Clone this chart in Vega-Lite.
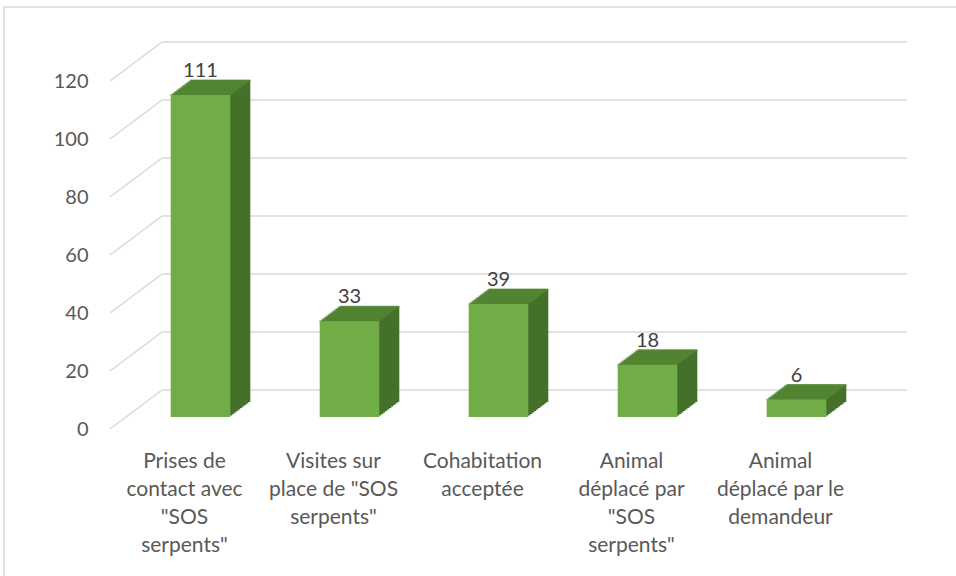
{
  "$schema": "https://vega.github.io/schema/vega-lite/v6.json",
  "width": 745,
  "height": 348,
  "autosize": "none",
  "padding": {"left": 126, "top": 69, "right": 85, "bottom": 159},
  "background": "white",
  "config": {"view": {"stroke": null}, "font": "Lato"},
  "resolve": {"scale": {"x": "independent"}, "axis": {"x": "independent"}},
  "layer": [
    {
      "data": {"values": [{"value": 0}, {"value": 20}, {"value": 40}, {"value": 60}, {"value": 80}, {"value": 100}, {"value": 120}]},
      "layer": [
        {
          "mark": {"type": "rule", "color": "#D9D9D9", "strokeWidth": 1.5, "xOffset": 36, "x2Offset": 36, "yOffset": -27, "y2Offset": -27},
          "encoding": {
            "x": {"datum": 0, "type": "quantitative", "scale": {"domain": [0, 1], "nice": false}, "axis": null},
            "x2": {"datum": 1},
            "y": {"field": "value", "type": "quantitative", "scale": {"domain": [0, 120], "nice": false},
                  "axis": {"title": null, "values": [0, 20, 40, 60, 80, 100, 120], "grid": false, "domain": false, "ticks": false, "tickSize": 0,
                           "labelPadding": 38, "labelOffset": 12, "labelFontSize": 20, "labelColor": "#595959", "labelFont": "Lato"}}
          }
        },
        {
          "mark": {"type": "rule", "color": "#D9D9D9", "strokeWidth": 1.5, "xOffset": -16, "x2Offset": 36, "yOffset": 12, "y2Offset": -27},
          "encoding": {
            "x": {"datum": 0, "type": "quantitative"},
            "x2": {"datum": 0},
            "y": {"field": "value", "type": "quantitative"},
            "y2": {"field": "value"}
          }
        }
      ]
    },
    {
      "data": {"values": [{"frame": "border"}]},
      "mark": {"type": "rect", "filled": false, "stroke": "#D9D9D9", "strokeWidth": 1.5, "xOffset": -122, "x2Offset": 100, "yOffset": -62, "y2Offset": 200},
      "encoding": {
        "x": {"datum": 0, "type": "quantitative", "scale": {"domain": [0, 1], "nice": false}, "axis": null},
        "x2": {"datum": 1},
        "y": {"datum": 120, "type": "quantitative"},
        "y2": {"datum": 0}
      }
    },
    {
      "data": {"values": [
        {"cat": "Prises de|contact avec|\"SOS|serpents\"", "value": 111},
        {"cat": "Visites sur|place de \"SOS|serpents\"", "value": 33},
        {"cat": "Cohabitation|acceptée", "value": 39},
        {"cat": "Animal|déplacé par|\"SOS|serpents\"", "value": 18},
        {"cat": "Animal|déplacé par le|demandeur", "value": 6}
      ]},
      "encoding": {
        "x": {"field": "cat", "type": "nominal", "sort": null, "scale": {"paddingInner": 0.6, "paddingOuter": 0.3},
              "axis": {"orient": "bottom", "title": null, "labelAngle": 0, "labelExpr": "split(datum.label, '|')", "labelLimit": 0, "labelOverlap": false, "labelBound": false,
                       "domain": false, "ticks": false, "tickSize": 0, "labelPadding": 50, "labelBaseline": "alphabetic", "labelLineHeight": 28,
                       "labelOffset": -16, "labelFontSize": 21, "labelColor": "#595959", "labelFont": "Lato"}},
        "y": {"field": "value", "type": "quantitative"}
      },
      "layer": [
        {"mark": {"type": "bar", "color": "#44702A", "xOffset": 2, "x2Offset": 2, "yOffset": -1.5, "y2Offset": -1.5}},
        {"mark": {"type": "bar", "color": "#44702A", "xOffset": 4, "x2Offset": 4, "yOffset": -3, "y2Offset": -3}},
        {"mark": {"type": "bar", "color": "#44702A", "xOffset": 6, "x2Offset": 6, "yOffset": -4.5, "y2Offset": -4.5}},
        {"mark": {"type": "bar", "color": "#44702A", "xOffset": 8, "x2Offset": 8, "yOffset": -6, "y2Offset": -6}},
        {"mark": {"type": "bar", "color": "#44702A", "xOffset": 10, "x2Offset": 10, "yOffset": -7.5, "y2Offset": -7.5}},
        {"mark": {"type": "bar", "color": "#44702A", "xOffset": 12, "x2Offset": 12, "yOffset": -9, "y2Offset": -9}},
        {"mark": {"type": "bar", "color": "#44702A", "xOffset": 14, "x2Offset": 14, "yOffset": -10.5, "y2Offset": -10.5}},
        {"mark": {"type": "bar", "color": "#44702A", "xOffset": 16, "x2Offset": 16, "yOffset": -12, "y2Offset": -12}},
        {"mark": {"type": "bar", "color": "#44702A", "xOffset": 18, "x2Offset": 18, "yOffset": -13.5, "y2Offset": -13.5}},
        {"mark": {"type": "bar", "color": "#44702A", "xOffset": 20, "x2Offset": 20, "yOffset": -15, "y2Offset": -15}},
        {"mark": {"type": "tick", "orient": "horizontal", "color": "#568A35", "size": 60, "thickness": 2, "xOffset": 0, "yOffset": 0}},
        {"mark": {"type": "tick", "orient": "horizontal", "color": "#568A35", "size": 60, "thickness": 2, "xOffset": 2, "yOffset": -1.5}},
        {"mark": {"type": "tick", "orient": "horizontal", "color": "#568A35", "size": 60, "thickness": 2, "xOffset": 4, "yOffset": -3}},
        {"mark": {"type": "tick", "orient": "horizontal", "color": "#568A35", "size": 60, "thickness": 2, "xOffset": 6, "yOffset": -4.5}},
        {"mark": {"type": "tick", "orient": "horizontal", "color": "#568A35", "size": 60, "thickness": 2, "xOffset": 8, "yOffset": -6}},
        {"mark": {"type": "tick", "orient": "horizontal", "color": "#568A35", "size": 60, "thickness": 2, "xOffset": 10, "yOffset": -7.5}},
        {"mark": {"type": "tick", "orient": "horizontal", "color": "#568A35", "size": 60, "thickness": 2, "xOffset": 12, "yOffset": -9}},
        {"mark": {"type": "tick", "orient": "horizontal", "color": "#568A35", "size": 60, "thickness": 2, "xOffset": 14, "yOffset": -10.5}},
        {"mark": {"type": "tick", "orient": "horizontal", "color": "#568A35", "size": 60, "thickness": 2, "xOffset": 16, "yOffset": -12}},
        {"mark": {"type": "tick", "orient": "horizontal", "color": "#568A35", "size": 60, "thickness": 2, "xOffset": 18, "yOffset": -13.5}},
        {"mark": {"type": "tick", "orient": "horizontal", "color": "#568A35", "size": 60, "thickness": 2, "xOffset": 20, "yOffset": -14.5}},
        {"mark": {"type": "bar", "color": "#70AD47"}},
        {"mark": {"type": "text", "dy": -18, "baseline": "alphabetic", "fontSize": 20, "color": "#404040", "font": "Lato"},
         "encoding": {"text": {"field": "value", "type": "quantitative"}}}
      ]
    }
  ]
}
